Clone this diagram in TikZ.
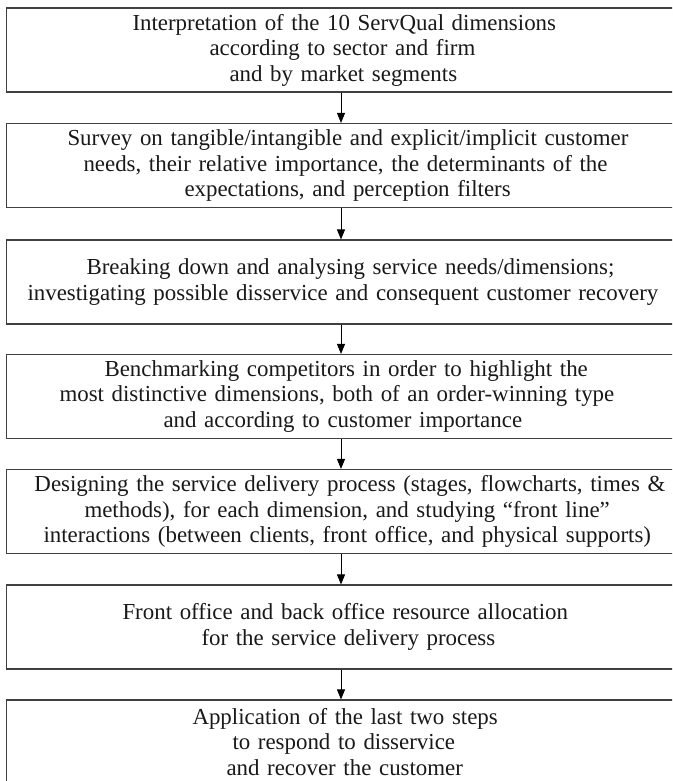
\documentclass[tikz,border=0pt]{standalone}
\usepackage{fontspec}
\setmainfont{Liberation Serif}
\usetikzlibrary{arrows.meta}
% a line whose first glyph starts at x = #1 (picture units)
\newcommand{\lline}[2]{\hspace*{\dimexpr #1pt-7pt\relax}#2}
\begin{document}
\begin{tikzpicture}[x=1pt,y=-1pt,
  stepbox/.style={draw=black!75,line width=1.1pt,text width=669pt,minimum height=84pt,
    inner sep=0pt,align=left,text=black!90,font=\fontsize{22.9}{25.5}\selectfont},
  arr/.style={draw=black,line width=0.9pt,-{Triangle[length=10pt,width=8pt]}}]
\useasboundingbox[fill=white] (0,0) rectangle (672,781);
\clip (0,0) rectangle (672,781);
\node[stepbox] (b1) at (341,50) {\lline{133}{Interpretation of the 10 ServQual dimensions}\\
  \lline{210}{according to sector and firm}\\ \lline{230}{and by market segments}};
\node[stepbox] (b2) at (341,165.5) {\lline{68}{Survey on tangible/intangible and explicit/implicit customer}\\
  \lline{84}{needs, their relative importance, the determinants of the}\\
  \lline{185}{expectations, and perception filters}};
\node[stepbox] (b3) at (341,282) {\lline{87}{Breaking down and analysing service needs/dimensions;}\\
  \lline{28}{investigating possible disservice and consequent customer recovery}};
\node[stepbox] (b4) at (341,396.5) {\lline{105}{Benchmarking competitors in order to highlight the}\\
  \lline{60}{most distinctive dimensions, both of an order-winning type}\\
  \lline{164}{and according to customer importance}};
\node[stepbox] (b5) at (341,511.5) {\lline{35}{Designing the service delivery process (stages, flowcharts, times \&}\\
  \lline{85}{methods), for each dimension, and studying “front line”}\\
  \lline{44}{interactions (between clients, front office, and physical supports)}};
\node[stepbox] (b6) at (341,627) {\lline{123}{Front office and back office resource allocation}\\
  \lline{202}{for the service delivery process}};
\node[stepbox] (b7) at (341,742) {\lline{193}{Application of the last two steps}\\
  \lline{233}{to respond to disservice}\\ \lline{227}{and recover the customer}};
\draw[arr] (b1.south) -- (b2.north);
\draw[arr] (b2.south) -- (b3.north);
\draw[arr] (b3.south) -- (b4.north);
\draw[arr] (b4.south) -- (b5.north);
\draw[arr] (b5.south) -- (b6.north);
\draw[arr] (b6.south) -- (b7.north);
\end{tikzpicture}
\end{document}
